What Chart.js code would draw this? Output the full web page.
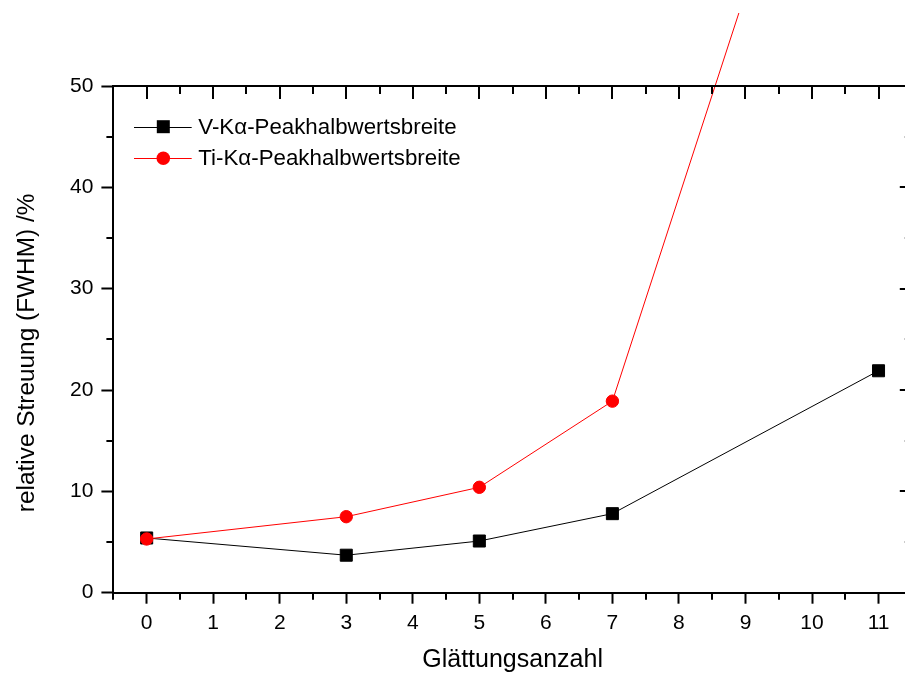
<!DOCTYPE html>
<html>
<head>
<meta charset="utf-8">
<script src="https://cdn.jsdelivr.net/npm/chart.js@4/dist/chart.umd.min.js"></script>
<style>
html,body{margin:0;padding:0;background:#fff;overflow:hidden;}
#wrap{width:930px;height:678px;}
</style>
</head>
<body>
<div id="wrap"><canvas id="c" width="930" height="678"></canvas></div>
<script>
// ---- data ----
const xValues = [0, 3, 5, 7, 11];
const vKaFwhm = [5.4, 3.7, 5.1, 7.8, 21.9];
const tiKaFwhm = [5.3, 7.5, 10.4, 18.9, 99.5];
const seriesLabels = ['V-Kα-Peakhalbwertsbreite', 'Ti-Kα-Peakhalbwertsbreite'];
const xTickValues = [0, 1, 2, 3, 4, 5, 6, 7, 8, 9, 10, 11];
const xMinorTicks = [-0.5, 0.5, 1.5, 2.5, 3.5, 4.5, 5.5, 6.5, 7.5, 8.5, 9.5, 10.5, 11.5];
const yTickValues = [0, 10, 20, 30, 40, 50];
const yMinorTicks = [5, 15, 25, 35, 45];
const xTitle = 'Glättungsanzahl';
const yTitle = 'relative Streuung (FWHM) /%';

const FONT = '"Liberation Sans", Arial, sans-serif';

const toPts = ys => xValues.map((x, i) => ({x: x, y: ys[i]}));

const framePlugin = {
  id: 'frame',
  afterDraw(chart) {
    const {ctx, chartArea: a, scales: {x, y}} = chart;
    ctx.save();
    ctx.strokeStyle = '#000';
    ctx.lineWidth = 2;
    ctx.beginPath();
    ctx.moveTo(a.left - 1, a.top); ctx.lineTo(a.right + 1, a.top);
    ctx.moveTo(a.right, a.top); ctx.lineTo(a.right, a.bottom);
    xTickValues.forEach(v => { const p = Math.round(x.getPixelForValue(v)); ctx.moveTo(p, a.top); ctx.lineTo(p, a.top + 13); });
    xMinorTicks.forEach(v => { const p = Math.round(x.getPixelForValue(v)); ctx.moveTo(p, a.top); ctx.lineTo(p, a.top + 8); });
    xMinorTicks.forEach(v => { const p = Math.round(x.getPixelForValue(v)); ctx.moveTo(p, a.bottom); ctx.lineTo(p, a.bottom + 7); });
    yTickValues.forEach(v => { const p = Math.round(y.getPixelForValue(v)); ctx.moveTo(a.right, p); ctx.lineTo(a.right - 12, p); });
    yMinorTicks.forEach(v => { const p = Math.round(y.getPixelForValue(v)); ctx.moveTo(a.right, p); ctx.lineTo(a.right - 7, p); });
    yMinorTicks.forEach(v => { const p = Math.round(y.getPixelForValue(v)); ctx.moveTo(a.left, p); ctx.lineTo(a.left - 7, p); });
    ctx.stroke();
    ctx.restore();
  }
};

const legendPlugin = {
  id: 'innerLegend',
  afterDraw(chart) {
    const {ctx, chartArea: a} = chart;
    ctx.save();
    chart.data.datasets.forEach((ds, i) => {
      const yy = a.top + 40.7 + i * 31.6;
      ctx.strokeStyle = ds.borderColor;
      ctx.lineWidth = 1;
      ctx.beginPath();
      ctx.moveTo(a.left + 20.6, Math.round(yy) + 0.5);
      ctx.lineTo(a.left + 78.3, Math.round(yy) + 0.5);
      ctx.stroke();
      const mx = a.left + 49.9;
      ctx.fillStyle = ds.pointBackgroundColor;
      ctx.beginPath();
      if (ds.pointStyle === 'rect') {
        ctx.rect(mx - 6.5, yy - 6.5, 13, 13);
      } else {
        ctx.arc(mx, yy, 6.8, 0, Math.PI * 2);
      }
      ctx.fill();
      ctx.fillStyle = '#000';
      ctx.font = '22.3px ' + FONT;
      ctx.textBaseline = 'middle';
      ctx.textAlign = 'left';
      ctx.fillText(ds.label, a.left + 84.9, yy + 1);
    });
    ctx.restore();
  }
};

new Chart(document.getElementById('c'), {
  type: 'line',
  data: {
    datasets: [
      {
        label: seriesLabels[0],
        data: toPts(vKaFwhm),
        borderColor: '#000000',
        backgroundColor: '#000000',
        pointBackgroundColor: '#000000',
        pointBorderColor: '#000000',
        pointStyle: 'rect',
        pointRadius: 8.5,
        pointBorderWidth: 1,
        borderWidth: 1,
        tension: 0,
        order: 1,
        clip: {left: 10, top: 10, right: 10, bottom: 10}
      },
      {
        label: seriesLabels[1],
        data: toPts(tiKaFwhm),
        borderColor: '#ff0000',
        backgroundColor: '#ff0000',
        pointBackgroundColor: '#ff0000',
        pointBorderColor: '#ff0000',
        pointStyle: 'circle',
        pointRadius: 6.2,
        pointBorderWidth: 1,
        borderWidth: 1,
        tension: 0,
        order: 0,
        clip: {left: 10, top: 73, right: 10, bottom: 10}
      }
    ]
  },
  options: {
    responsive: false,
    animation: false,
    devicePixelRatio: 1,
    layout: {padding: {left: 0, top: 86, right: 18.2, bottom: 0}},
    plugins: {legend: {display: false}, tooltip: {enabled: false}},
    scales: {
      x: {
        type: 'linear',
        position: 'bottom',
        min: -0.5,
        max: 11.5,
        afterBuildTicks: s => { s.ticks = xTickValues.map(v => ({value: v})); },
        afterFit: s => { s.height = 85.3; },
        border: {display: true, color: '#000', width: 2},
        grid: {drawOnChartArea: false, drawTicks: true, tickLength: 11, tickWidth: 2, tickColor: '#000'},
        ticks: {color: '#000', font: {family: FONT, size: 21}, padding: 7, maxRotation: 0, autoSkip: false},
        title: {display: true, text: xTitle, color: '#000', font: {family: FONT, size: 25}, padding: {top: 0, bottom: 3}}
      },
      y: {
        type: 'linear',
        position: 'left',
        min: 0,
        max: 50,
        afterBuildTicks: s => { s.ticks = yTickValues.map(v => ({value: v})); },
        afterFit: s => { s.width = 113.4; },
        border: {display: true, color: '#000', width: 2},
        grid: {drawOnChartArea: false, drawTicks: true, tickLength: 12, tickWidth: 2, tickColor: '#000'},
        ticks: {color: '#000', font: {family: FONT, size: 21}, padding: 8},
        title: {display: true, text: yTitle + '    ', color: '#000', font: {family: FONT, size: 24.4}, padding: {top: 13, bottom: 0}}
      }
    }
  },
  plugins: [framePlugin, legendPlugin]
});
</script>
</body>
</html>
